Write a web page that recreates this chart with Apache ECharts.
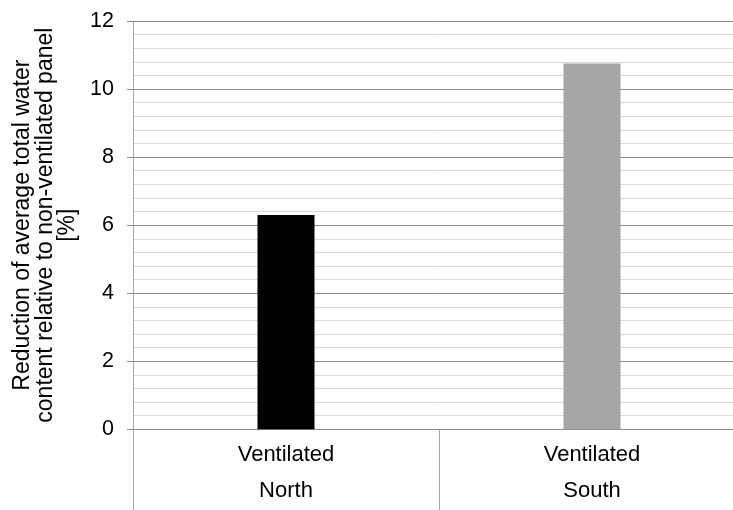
<!DOCTYPE html>
<html>
<head>
<meta charset="utf-8">
<script src="https://cdn.jsdelivr.net/npm/echarts@6/dist/echarts.min.js"></script>
<style>
  html, body { margin: 0; padding: 0; background: #fff; }
  #chart { width: 733px; height: 510px; }
</style>
</head>
<body>
<div id="chart"></div>
<script>
// Panel orientation (outer category row) and panel type (inner row)
const orientations = ['North', 'South'];
const panelTypes = ['Ventilated', 'Ventilated'];
// Reduction of average total water content, %
const reductions = [6.3, 10.75];
const barColors = ['#000000', '#a6a6a6'];

const yAxisTitle = 'Reduction of average total water\ncontent relative to non-ventilated panel\n[%]';

const chart = echarts.init(document.getElementById('chart'), null, { renderer: 'canvas' });
const fontFamily = '"Liberation Sans", Arial, sans-serif';

chart.setOption({
  animation: false,
  grid: {
    left: 133, right: -12, top: 21, bottom: 80.7,
    containLabel: false,
    outerBoundsMode: 'none'
  },
  xAxis: {
    type: 'category',
    data: orientations,
    axisLine: { show: true, lineStyle: { color: '#8c8c8c', width: 1 } },
    axisTick: { show: true, alignWithLabel: false, length: 81, lineStyle: { color: '#a6a6a6', width: 1 } },
    axisLabel: {
      margin: 8,
      color: '#000',
      fontFamily: fontFamily,
      fontSize: 22,
      lineHeight: 36,
      formatter: (value, idx) => panelTypes[idx] + '\n' + value
    }
  },
  yAxis: {
    type: 'value',
    min: 0,
    max: 12,
    interval: 2,
    name: yAxisTitle,
    nameLocation: 'middle',
    nameGap: 54,
    nameRotate: 90,
    nameTextStyle: { color: '#000', fontFamily: fontFamily, fontSize: 23, lineHeight: 22.5 },
    axisLine: { show: true, lineStyle: { color: '#a6a6a6', width: 1 } },
    axisTick: { show: true, length: 6, lineStyle: { color: '#8c8c8c' } },
    axisLabel: { margin: 19, color: '#000', fontFamily: fontFamily, fontSize: 21.5 },
    splitLine: { show: true, lineStyle: { color: '#8c8c8c', width: 1 } },
    minorTick: { show: false, splitNumber: 5 },
    minorSplitLine: { show: true, lineStyle: { color: '#d9d9d9', width: 1 } }
  },
  series: [{
    type: 'bar',
    barWidth: 57,
    data: reductions.map((v, i) => ({ value: v, itemStyle: { color: barColors[i] } }))
  }]
});
</script>
</body>
</html>
